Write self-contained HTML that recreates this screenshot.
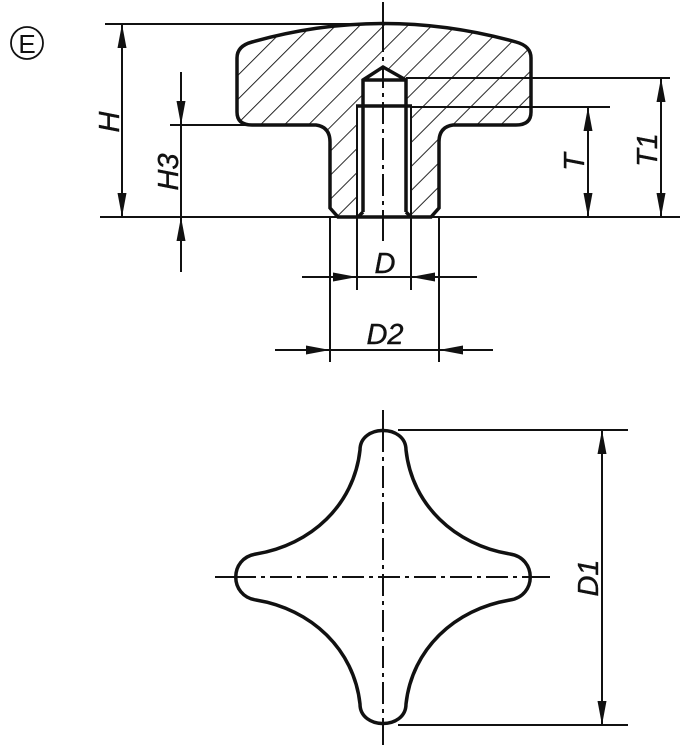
<!DOCTYPE html>
<html><head><meta charset="utf-8"><style>
html,body{margin:0;padding:0;background:#fff;width:688px;height:750px;overflow:hidden}
text{font-family:"Liberation Sans Narrow","Liberation Sans",sans-serif;font-style:italic;font-size:29px;fill:#111;stroke:#111;stroke-width:0.4}
</style></head><body>
<svg width="688" height="750" viewBox="0 0 688 750" xmlns="http://www.w3.org/2000/svg">
<defs>
<pattern id="h" patternUnits="userSpaceOnUse" width="17" height="17" patternTransform="rotate(45)">
<line x1="0" y1="0" x2="0" y2="17" stroke="#111" stroke-width="1.8"/>
</pattern>
<marker id="a" viewBox="0 0 24 10" refX="24" refY="5" markerWidth="24" markerHeight="10" markerUnits="userSpaceOnUse" orient="auto">
<path d="M0,0.5 L24,5 L0,9.5 Z" fill="#111"/>
</marker>
</defs>
<circle cx="27" cy="43" r="16" fill="none" stroke="#111" stroke-width="1.8"/>
<text x="27" y="53" text-anchor="middle" style="font-style:normal;font-size:26px;stroke-width:0">E</text>

<path fill="url(#h)" fill-rule="evenodd" d="M237,58 Q237,46 252,42 Q383,5 516,42 Q531,46 531,58 L531,112 Q531,125 516,125 L453,125 Q439,127 439,142 L439,208 L431,217 L338,217 L330,208 L330,142 Q330,127 316,125 L252,125 Q237,125 237,112 Z M357,217 L357,106 L363,106 L363,80 L383,66 L406,80 L406,106 L411,106 L411,217 Z"/>
<path fill="none" stroke="#111" stroke-width="3.5" d="M237,58 Q237,46 252,42 Q383,5 516,42 Q531,46 531,58 L531,112 Q531,125 516,125 L453,125 Q439,127 439,142 L439,208 L431,217 L338,217 L330,208 L330,142 Q330,127 316,125 L252,125 Q237,125 237,112 Z"/>
<path fill="none" stroke="#111" stroke-width="3.5" d="M363,212 L363,80 L383,67 L406,80 L406,212 M363,80 L406,80 M356,106 L412,106 M363,212 L358,217 M406,212 L411,217"/>
<path fill="none" stroke="#111" stroke-width="2" d="M357,106 L357,290 M411,106 L411,290 M330,217 L330,362 M439,217 L439,362"/>
<path fill="none" stroke="#111" stroke-width="2" d="M105,24 L383,24 M100,217 L680,217 M170,125 L316,125 M406,78 L670,78 M412,107 L610,107 M398,430 L628,430 M398,725 L628,725"/>
<path fill="none" stroke="#111" stroke-width="2" d="M383,2 L383,30 M383,232 L383,241"/>
<path fill="none" stroke="#111" stroke-width="2" stroke-dasharray="22,5,4,5" d="M383,30 L383,232"/>
<path fill="none" stroke="#111" stroke-width="2" d="M383,410 L383,430 M383,724 L383,745 M215,577 L234,577 M531,577 L550,577"/>
<path fill="none" stroke="#111" stroke-width="2" stroke-dasharray="22,5,4,5" d="M383,430 L383,724 M234,577 L531,577"/>
<path fill="none" stroke="#111" stroke-width="3.5" d="M360,450 C360,424 406,424 406,450 C412,505 455,545 510,554 C537,558 537,596 510,600 C455,609 412,649 406,704 C406,730 360,730 360,704 C354,649 311,609 256,600 C229,596 229,558 256,554 C311,545 354,505 360,450 Z"/>
<g stroke="#111" stroke-width="2" fill="none">
<line x1="122" y1="120" x2="122" y2="24" marker-end="url(#a)"/>
<line x1="122" y1="120" x2="122" y2="217" marker-end="url(#a)"/>
<line x1="181" y1="72" x2="181" y2="125" marker-end="url(#a)"/>
<line x1="181" y1="272" x2="181" y2="217" marker-end="url(#a)"/>
<line x1="181" y1="125" x2="181" y2="217"/>
<line x1="661" y1="150" x2="661" y2="78" marker-end="url(#a)"/>
<line x1="661" y1="150" x2="661" y2="217" marker-end="url(#a)"/>
<line x1="588" y1="160" x2="588" y2="107" marker-end="url(#a)"/>
<line x1="588" y1="160" x2="588" y2="217" marker-end="url(#a)"/>
<line x1="302" y1="277" x2="357" y2="277" marker-end="url(#a)"/>
<line x1="477" y1="277" x2="411" y2="277" marker-end="url(#a)"/>
<line x1="357" y1="277" x2="411" y2="277"/>
<line x1="275" y1="350" x2="330" y2="350" marker-end="url(#a)"/>
<line x1="493" y1="350" x2="439" y2="350" marker-end="url(#a)"/>
<line x1="330" y1="350" x2="439" y2="350"/>
<line x1="602" y1="577" x2="602" y2="430" marker-end="url(#a)"/>
<line x1="602" y1="577" x2="602" y2="725" marker-end="url(#a)"/>
</g>
<text transform="translate(119,122) rotate(-90)" text-anchor="middle">H</text>
<text transform="translate(178,172) rotate(-90)" text-anchor="middle">H3</text>
<text transform="translate(584,162) rotate(-90)" text-anchor="middle">T</text>
<text transform="translate(657,150) rotate(-90)" text-anchor="middle">T1</text>
<text x="385" y="273" text-anchor="middle">D</text>
<text x="385" y="344" text-anchor="middle">D2</text>
<text transform="translate(598,578) rotate(-90)" text-anchor="middle">D1</text>
</svg>
</body></html>
